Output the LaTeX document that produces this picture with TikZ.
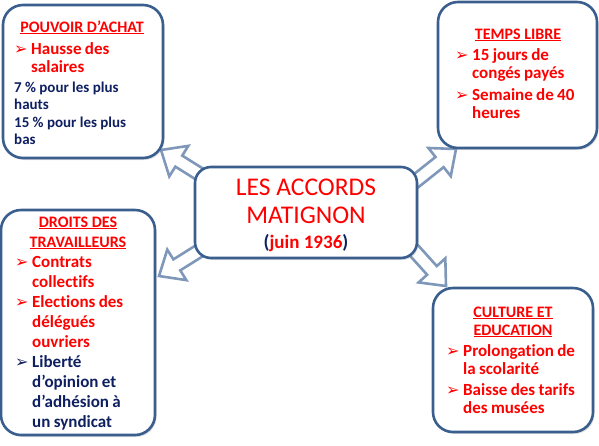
\documentclass[tikz,border=0pt]{standalone}
\usepackage{fontspec}
\setmainfont{Carlito}[Ligatures={NoCommon}]
\newfontfamily\symfont{DejaVu Sans}
\usetikzlibrary{shadows}
\definecolor{boxblue}{HTML}{3A5F8F}
\definecolor{arrowblue}{HTML}{7F98B9}
\definecolor{tred}{HTML}{FF0000}
\definecolor{tnavy}{HTML}{0F2060}
\newcommand\mybul[1]{{\color{#1}\symfont\fontsize{16}{12}\selectfont ➢}}
\newcommand\bitem[2]{\hangindent=17pt\hangafter=1\noindent\makebox[17pt][l]{\mybul{#1}}{\color{#1}#2}\par}
\newcommand\blockarrow[2]{%
  \begin{scope}[shift={#1},rotate=#2]
    \draw[blockarr] (0,0) -- (-21,18) -- (-21,6.5) -- (-85,6.5) -- (-85,-6.5) -- (-21,-6.5) -- (-21,-18) -- cycle;
  \end{scope}}
\begin{document}
\begin{tikzpicture}[x=1pt,y=-1pt,
  cbox/.style={draw=boxblue,line width=2.6pt,fill=white,rounded corners=20pt,
     drop shadow={opacity=0.25,shadow xshift=1.5pt,shadow yshift=-2pt}},
  blockarr/.style={draw=arrowblue,line width=2.6pt,fill=white,line join=miter},
  hdr/.style={anchor=base,inner sep=0pt,text=tred,font=\bfseries\fontsize{16}{18}\selectfont},
  body/.style={anchor=base west,inner sep=0pt,text width=220pt,align=left},
  ttl/.style={anchor=base,inner sep=0pt,text=tred,font=\fontsize{25.5}{28}\selectfont}]
\useasboundingbox (0,0) rectangle (599,445);
% block arrows
\blockarrow{(161,150)}{148}
\blockarrow{(456,149)}{38.5}
\blockarrow{(159,276)}{212}
\blockarrow{(446,286)}{-48}
% boxes
\node[cbox,minimum width=160pt,minimum height=153pt] (tl) at (83,81.5) {};
\node[cbox,minimum width=159pt,minimum height=146pt] (tr) at (517.5,75) {};
\node[cbox,minimum width=154pt,minimum height=225pt] (bl) at (78,322.5) {};
\node[cbox,minimum width=160pt,minimum height=144pt] (br) at (513,360) {};
\node[cbox,rounded corners=16pt,minimum width=222pt,minimum height=91pt] (c) at (306,212.5) {};
% center text
\node[ttl] (c1) at (306,195) {LES ACCORDS};
\node[ttl] (c2) at (306,223) {MATIGNON};
\node[ttl,font=\bfseries\fontsize{19}{21}\selectfont] (c3) at (306,248) {{\color{tnavy}(}juin 1936{\color{tnavy})}};
% top left
\node[hdr] (tlh) at (82,32) {\underline{POUVOIR D’ACHAT}};
\node[body] (tlb) at (14,54) {\bfseries\fontsize{17}{18.5}\selectfont\bitem{tred}{Hausse des\newline salaires}%
\vspace{2pt}%
{\color{tnavy}\fontsize{15}{17.5}\selectfont\noindent 7 \% pour les plus\newline hauts\newline 15 \% pour les plus\newline bas\par}};
% top right
\node[hdr] (trh) at (518,39) {\underline{TEMPS LIBRE}};
\node[body] (trb) at (455,60) {\bfseries\fontsize{17}{18}\selectfont\bitem{tred}{15 jours de\newline congés payés}%
\vspace{4pt}%
\bitem{tred}{Semaine de 40\newline heures}};
% bottom left
\node[hdr] (blh1) at (78,227) {\underline{DROITS DES}};
\node[hdr] (blh2) at (78,247) {\underline{TRAVAILLEURS}};
\node[body] (blb) at (15,267) {\bfseries\fontsize{17}{20.1}\selectfont\bitem{tred}{Contrats\newline collectifs}%
\bitem{tred}{Elections des\newline délégués\newline ouvriers}%
\bitem{tnavy}{Liberté\newline d’opinion et\newline d’adhésion à\newline un syndicat}};
% bottom right
\node[hdr] (brh1) at (513,317) {\underline{CULTURE ET}};
\node[hdr] (brh2) at (513,335) {\underline{EDUCATION}};
\node[body] (brb) at (446,356) {\bfseries\fontsize{17}{18}\selectfont\bitem{tred}{Prolongation de\newline la scolarité}%
\vspace{3pt}%
\bitem{tred}{Baisse des tarifs\newline des musées}};
\end{tikzpicture}
\end{document}
